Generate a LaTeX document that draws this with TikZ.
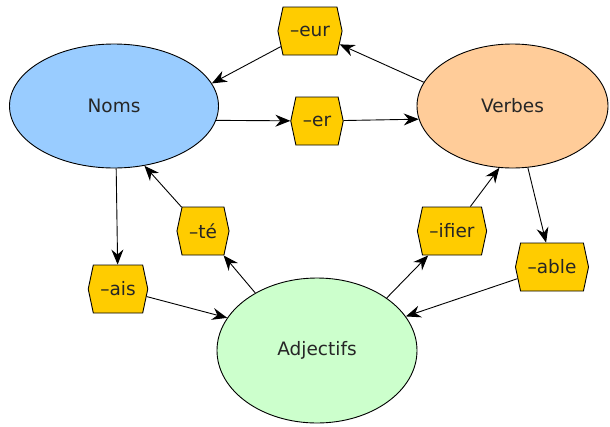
\documentclass[tikz,border=0pt]{standalone}
\usepackage{fontspec}
\setmainfont{DejaVu Sans}
\usetikzlibrary{shapes.geometric,shapes.symbols,arrows.meta}
\definecolor{nomsblue}{HTML}{99CCFF}
\definecolor{verbesorange}{HTML}{FFCC99}
\definecolor{adjgreen}{HTML}{CCFFCC}
\definecolor{suffixgold}{HTML}{FFCC00}

\begin{document}
\begin{tikzpicture}[x=1pt,y=-1pt,->,>={Stealth[length=15pt,width=12pt,inset=5pt]},line width=0.9pt,
  class node/.style={ellipse,draw,inner sep=0pt,text=black!85,font=\fontsize{18.5}{22}\selectfont},
  suffix node/.style={signal,signal to=west and east,signal pointer angle=156,draw,fill=suffixgold,
    minimum height=48pt,inner xsep=7pt,inner ysep=0pt,text=black!85,font=\fontsize{18.5}{22}\selectfont}]
  \useasboundingbox (0,0) rectangle (610,426);

  \node[class node,fill=nomsblue,minimum width=209pt,minimum height=124pt] (noms) at (114,106) {Noms};
  \node[class node,fill=verbesorange,minimum width=191pt,minimum height=124pt] (verbes) at (512.5,106) {Verbes};
  \node[class node,fill=adjgreen,minimum width=200pt,minimum height=145pt] (adj) at (317,350.5) {Adjectifs};

  \node[suffix node] (eur) at (310,31) {--eur};
  \node[suffix node] (er) at (317,121) {--er};
  \node[suffix node] (te) at (203,231) {--té};
  \node[suffix node] (ais) at (118,289) {--ais};
  \node[suffix node] (ifier) at (452,231) {--ifier};
  \node[suffix node] (able) at (552,267) {--able};

  \path
    (verbes.165) edge (eur)
    (eur) edge (noms.13)
    (noms.-8) edge (er)
    (er) edge (verbes.188)
    (noms.-88) edge (ais)
    (ais) edge (adj.160)
    (adj.137) edge (te)
    (te) edge (noms.-63)
    (adj.37) edge (ifier)
    (ifier) edge (verbes.258)
    (verbes.-76) edge (able)
    (able) edge (adj.21)
    ;
\end{tikzpicture}
\end{document}
